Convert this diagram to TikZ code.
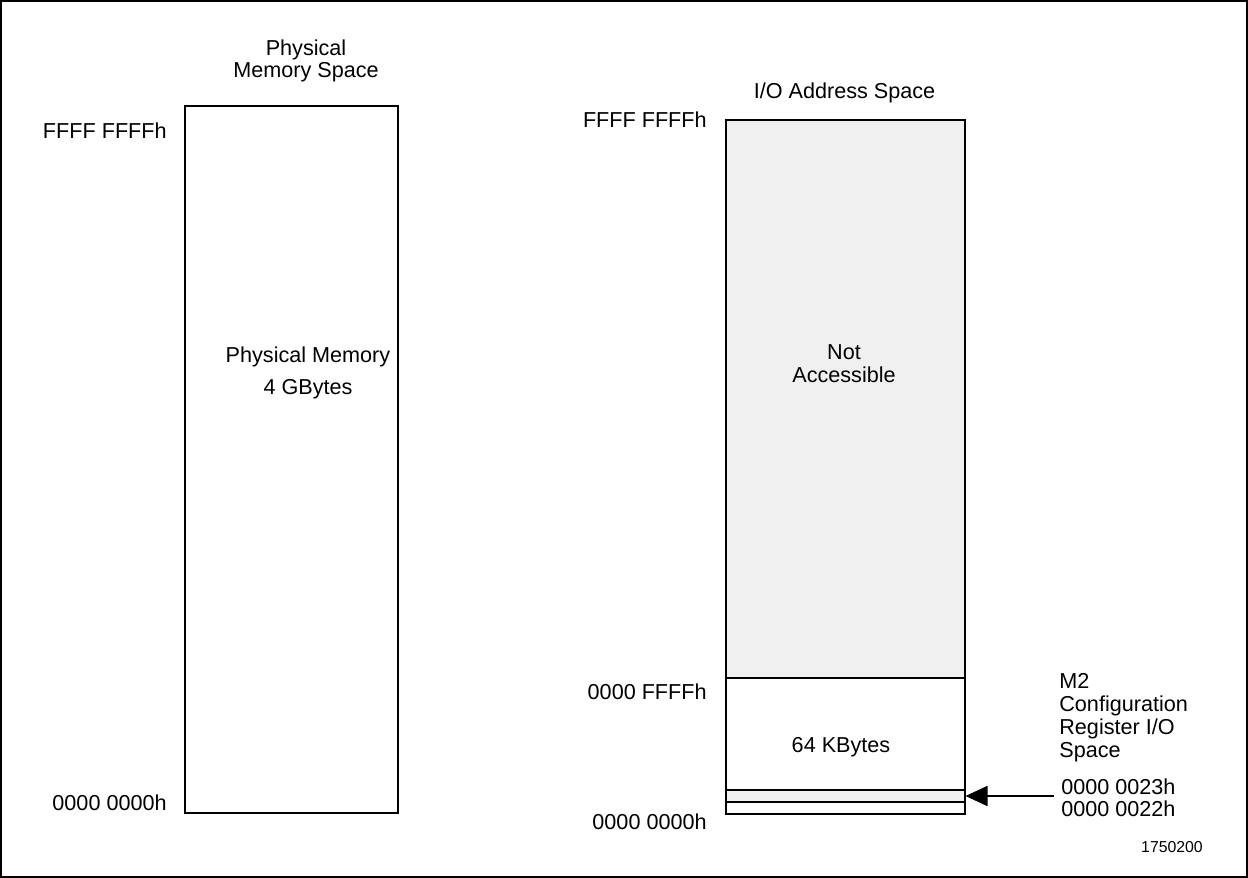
\documentclass[tikz,border=0pt]{standalone}
\usepackage{fontspec}
\setmainfont{Liberation Sans}
\usepackage{tikz}
\usetikzlibrary{arrows.meta}
\definecolor{MemGray}{RGB}{240,240,240}

\begin{document}
\begin{tikzpicture}[>={Triangle[length=.44cm,width=.4cm]},
    region/.style={draw,line width=.6pt,inner sep=0,minimum width=4.78cm},
    lbl/.style={font=\fontsize{12.3}{14}\selectfont,inner sep=0}]
  \useasboundingbox (0,0) rectangle (24.96,-17.56);
  \draw[line width=.04cm] (.02,-.02) rectangle (24.94,-17.54);

  % physical memory side
  \node[draw,line width=.6pt,inner sep=0,minimum width=4.26cm,minimum height=14.14cm] (phys) at (5.83,-9.19) {};
  \node[lbl,align=center,font=\fontsize{12.3}{11}\selectfont] (ptitle) at (6.12,-1.22) {Physical\\Memory Space};
  \node[lbl,align=center,font=\fontsize{12.3}{18}\selectfont] (ptext) at (6.16,-7.46) {Physical Memory\\4 GBytes};
  \node[lbl,anchor=east] (ptop) at (3.34,-2.62) {FFFF FFFFh};
  \node[lbl,anchor=east] (pbot) at (3.34,-16.06) {0000 0000h};

  % I/O side
  \node[region,fill=MemGray,minimum height=11.16cm] (na) at (16.91,-7.98) {};
  \node[region,minimum height=2.24cm] (kb) at (16.91,-14.68) {};
  \node[region,fill=MemGray,minimum height=.24cm] (cfg) at (16.91,-15.92) {};
  \node[region,minimum height=.24cm] (low) at (16.91,-16.16) {};
  \node[lbl] (iotitle) at (16.89,-1.86) {I/O Address Space};
  \node[lbl,align=center,font=\fontsize{12.3}{13}\selectfont] (natext) at (16.88,-7.28) {Not\\Accessible};
  \node[lbl] (kbtext) at (16.82,-14.94) {64 KBytes};
  \node[lbl,anchor=east] (iotop) at (14.14,-2.40) {FFFF FFFFh};
  \node[lbl,anchor=east] (iomid) at (14.14,-13.84) {0000 FFFFh};
  \node[lbl,anchor=east] (iobot) at (14.14,-16.44) {0000 0000h};

  % config register pointer
  \node[lbl,align=left,font=\fontsize{12.3}{13.2}\selectfont,anchor=west] (m2) at (21.18,-14.35) {M2\\Configuration\\Register I/O\\Space};
  \node[lbl,align=left,font=\fontsize{12.3}{12.4}\selectfont,anchor=west] (addr) at (21.22,-15.96) {0000 0023h\\0000 0022h};
  \draw[->,line width=1.1pt] ([xshift=-.14cm]addr.west |- cfg.east) -- (cfg.east);

  \node[lbl,font=\fontsize{9}{11}\selectfont] (fig) at (23.44,-16.95) {1750200};
\end{tikzpicture}
\end{document}
